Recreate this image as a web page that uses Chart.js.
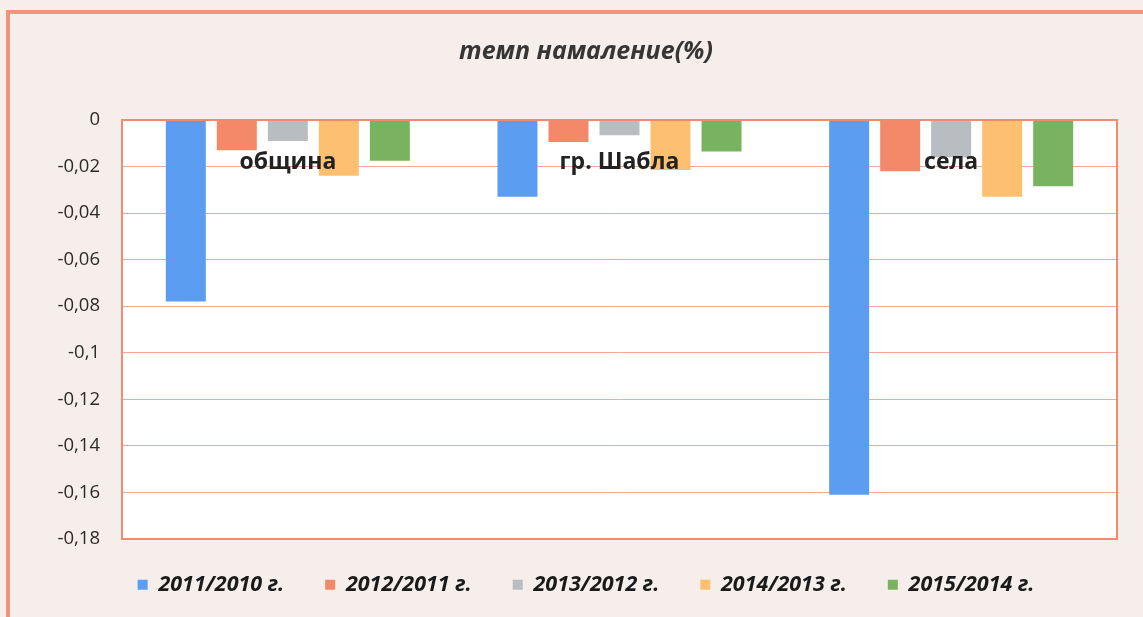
<!DOCTYPE html>
<html>
<head>
<meta charset="utf-8">
<script src="https://cdn.jsdelivr.net/npm/chart.js@4/dist/chart.umd.min.js"></script>
<style>
  html, body { margin: 0; padding: 0; width: 1143px; height: 617px; overflow: hidden; background: #f6eeeb; }
  #frame { position: absolute; left: 6px; top: 10px; width: 1200px; height: 603px; border: 4px solid #f3937a; border-right: none; }
  #wrap { position: absolute; left: 0; top: 0; width: 1143px; height: 617px; }
</style>
</head>
<body>
<div id="frame"></div>
<div id="wrap"><canvas id="c"></canvas></div>
<script>
const categories = ['община', 'гр. Шабла', 'села'];
const seriesNames = ['2011/2010 г.', '2012/2011 г.', '2013/2012 г.', '2014/2013 г.', '2015/2014 г.'];
const s2011 = [-0.078, -0.033, -0.161];
const s2012 = [-0.013, -0.0095, -0.022];
const s2013 = [-0.009, -0.0065, -0.016];
const s2014 = [-0.024, -0.0215, -0.033];
const s2015 = [-0.0175, -0.0135, -0.0285];
const yTicks = [0, -0.02, -0.04, -0.06, -0.08, -0.1, -0.12, -0.14, -0.16, -0.18];
const colors = ['#5b9df0', '#f4896a', '#b9bcc0', '#fdc070', '#7ab35f'];

const seriesValues = [s2011, s2012, s2013, s2014, s2015];

const plotFrame = {
  id: 'plotFrame',
  afterLayout(chart) {
    // nudge legend row up to sit like the original
    const lg = chart.legend;
    if (lg) { lg.top -= 6; lg.bottom -= 6; }
  },
  beforeDraw(chart) {
    const {ctx, chartArea: a} = chart;
    ctx.save();
    ctx.fillStyle = '#ffffff';
    ctx.fillRect(a.left, a.top, a.right - a.left, a.bottom - a.top);
    ctx.restore();
  },
  afterDatasetsDraw(chart) {
    const {ctx, chartArea: a} = chart;
    ctx.save();
    ctx.strokeStyle = '#f08a70';
    ctx.lineWidth = 2;
    ctx.strokeRect(a.left, a.top, a.right - a.left, a.bottom - a.top);
    // category labels drawn at the zero line, above the bars
    const xs = chart.scales.x, ys = chart.scales.y;
    const base = ys.getPixelForValue(0) + 49;
    ctx.fillStyle = '#222222';
    ctx.font = 'bold 23px "Open Sans"';
    ctx.textAlign = 'center';
    ctx.textBaseline = 'alphabetic';
    chart.data.labels.forEach((lab, i) => {
      ctx.fillText(lab, xs.getPixelForTick(i), base);
    });
    ctx.restore();
  }
};

new Chart(document.getElementById('c'), {
  type: 'bar',
  data: {
    labels: categories,
    datasets: seriesNames.map((n, i) => ({
      label: n,
      data: seriesValues[i],
      backgroundColor: colors[i],
      borderWidth: 0,
      categoryPercentage: 0.769,
      barPercentage: 0.784
    }))
  },
  options: {
    responsive: true,
    maintainAspectRatio: false,
    animation: false,
    layout: { padding: { left: 55, right: 26, top: 18, bottom: 5.5 } },
    plugins: {
      title: {
        display: true,
        text: 'темп намаление(%)',
        color: '#363636',
        font: { family: 'Open Sans', size: 25, weight: 'bold', style: 'italic' },
        padding: { top: 19, bottom: 53 }
      },
      legend: {
        position: 'bottom',
        labels: {
          boxWidth: 10,
          boxHeight: 10,
          padding: 41,
          color: '#1a1a1a',
          font: { family: 'Open Sans', size: 21.5, weight: 'bold', style: 'italic' }
        }
      },
      tooltip: { enabled: false }
    },
    scales: {
      x: {
        type: 'category',
        display: false,
        grid: { display: false, drawTicks: false },
        border: { display: false },
        ticks: { display: false }
      },
      y: {
        min: -0.18,
        max: 0,
        afterFit(scale) { scale.width = 67; },
        afterBuildTicks(scale) { scale.ticks = yTicks.map(v => ({ value: v })); },
        grid: { color: '#f2a894', lineWidth: 1, drawTicks: false },
        border: { display: false },
        ticks: {
          padding: 22,
          color: '#2a2a2a',
          font: { family: 'Open Sans', size: 18.5 },
          callback: (v) => parseFloat(Number(v).toFixed(2)).toString().replace('.', ',')
        }
      }
    }
  },
  plugins: [plotFrame]
});
</script>
</body>
</html>
